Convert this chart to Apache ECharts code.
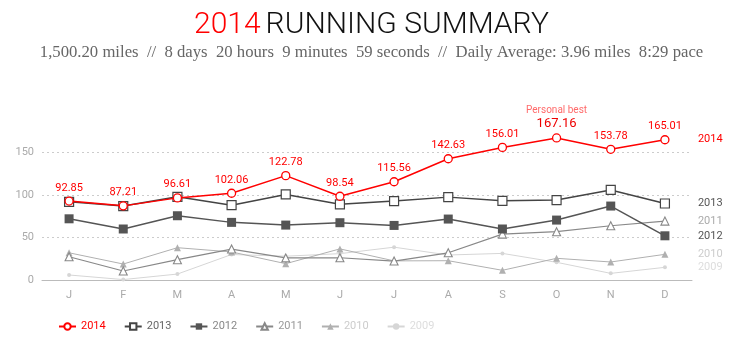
<!DOCTYPE html>
<html><head><meta charset="utf-8">
<script src="https://cdn.jsdelivr.net/npm/echarts@6/dist/echarts.min.js"></script>
<style>html,body{margin:0;padding:0;background:#fff;}#c{width:743px;height:357px;}</style>
</head><body><div id="c"></div>
<script>
var months = ['J','F','M','A','M','J','J','A','S','O','N','D'];
var y2014 = [92.85,87.21,96.61,102.06,122.78,98.54,115.56,142.63,156.01,167.16,153.78,165.01];
var y2013 = [92,87,97.9,88,100.7,89,92.8,97.5,93.2,94,106,90];
var y2012 = [72,60,75.6,67.8,64.6,67.4,64.2,71.7,60,70.5,87,52];
var y2011 = [27.4,10.6,23.9,36.4,26,26.2,22.3,32,54,56.8,63.8,69.3];
var y2010 = [32,18.8,38,33,19.2,36.6,22.5,22.7,11.4,25.5,21.2,30.2];
var y2009 = [5.9,0.5,7,30,28,31,38.6,29.4,31.3,20.8,7.8,14.9];
var yTicks = [0,50,100,150];
var bestIndex = 9;

var cond = "'Liberation Sans Narrow','Roboto',sans-serif";

function mk(name, data, o) {
  return {
    name: name, type: 'line', data: data,
    symbol: o.symbol, symbolSize: o.size, showAllSymbol: true,
    z: o.z,
    lineStyle: {color: o.color, width: o.lw},
    itemStyle: o.hollow ? {color: '#fff', borderColor: o.color, borderWidth: o.bw}
                        : {color: o.color, borderWidth: 0},
    emphasis: {disabled: true},
    endLabel: {show: true, formatter: name, color: o.label, fontFamily: cond, fontSize: 11, distance: 33},
    label: o.dataLabel ? o.dataLabel : {show: false}
  };
}

var chart = echarts.init(document.getElementById('c'));
var s2014 = mk('2014', y2014, {symbol:'circle', hollow:true, size:8, color:'#ff0000', bw:1.3, lw:1.5, z:10, label:'#ff0000',
  dataLabel: {show:true, position:'top', distance:3, color:'#ff0000', fontFamily:cond, fontSize:11,
    formatter: function(p){ return p.dataIndex===bestIndex ? '{pb|Personal best}\n{big|'+p.value.toFixed(2)+'}' : p.value.toFixed(2); },
    rich: {pb:{color:'#ff6a6a', fontFamily:cond, fontSize:10, lineHeight:12}, big:{color:'#ee0000', fontFamily:cond, fontSize:13, lineHeight:14}}
  }});
chart.setOption({
  animation: false,
  title: [{
    text: '{r|2014} {b|RUNNING SUMMARY}', left: 'center', top: 5,
    textStyle: {rich: {r:{color:'#ff0000', fontSize:30, fontFamily:'Roboto', fontWeight:300}, b:{color:'#111', fontSize:30, fontFamily:'Roboto', fontWeight:300}}}
  },{
    text: '1,500.20 miles  //  8 days  20 hours  9 minutes  59 seconds  //  Daily Average: 3.96 miles  8:29 pace',
    left: 'center', top: 39,
    textStyle: {color:'#666', fontSize:16.7, fontWeight:'normal', fontFamily:"'Liberation Serif','DejaVu Serif',serif"}
  }],
  legend: {
    left: 53, top: 316, itemWidth: 17, itemHeight: 8, itemGap: 18,
    textStyle: {fontFamily: cond, fontSize: 11},
    data: [
      {name:'2014', textStyle:{color:'#ff0000'}},
      {name:'2013', textStyle:{color:'#666'}},
      {name:'2012', textStyle:{color:'#888'}},
      {name:'2011', textStyle:{color:'#999'}},
      {name:'2010', textStyle:{color:'#ccc'}},
      {name:'2009', textStyle:{color:'#ddd'}}
    ]
  },
  grid: {left: 42, right: 51, top: 110, bottom: 77},
  xAxis: {
    type: 'category', data: months, boundaryGap: true,
    axisLine: {lineStyle: {color:'#bbb'}},
    axisTick: {alignWithLabel: true, length: 5, lineStyle:{color:'#ccc'}},
    axisLabel: {color:'#aaa', fontFamily: cond, fontSize: 11, margin: 10}
  },
  yAxis: {
    type: 'value', min: 0, max: 200, interval: 50,
    axisLine: {show:false}, axisTick: {show:false},
    axisLabel: {color:'#aaa', fontFamily: cond, fontSize: 11, margin: 8,
      formatter: function(v){ return yTicks.indexOf(v) >= 0 ? String(v) : ''; }},
    splitLine: {lineStyle: {color: ['#bbb','#ccc','#ccc','#ccc','rgba(0,0,0,0)'], type: [2,3]}}
  },
  series: [
    mk('2009', y2009, {symbol:'circle', size:4, color:'#d6d6d6', lw:1, z:2, label:'#ddd'}),
    mk('2010', y2010, {symbol:'triangle', size:7, color:'#b0b0b0', lw:1, z:3, label:'#ccc'}),
    mk('2011', y2011, {symbol:'triangle', hollow:true, size:8, color:'#888', bw:1.1, lw:1.2, z:4, label:'#aaa'}),
    mk('2012', y2012, {symbol:'rect', size:9, color:'#555', lw:1.5, z:5, label:'#555'}),
    mk('2013', y2013, {symbol:'rect', hollow:true, size:9, color:'#444', bw:1.2, lw:1.5, z:6, label:'#555'}),
    s2014
  ]
});
</script></body></html>
